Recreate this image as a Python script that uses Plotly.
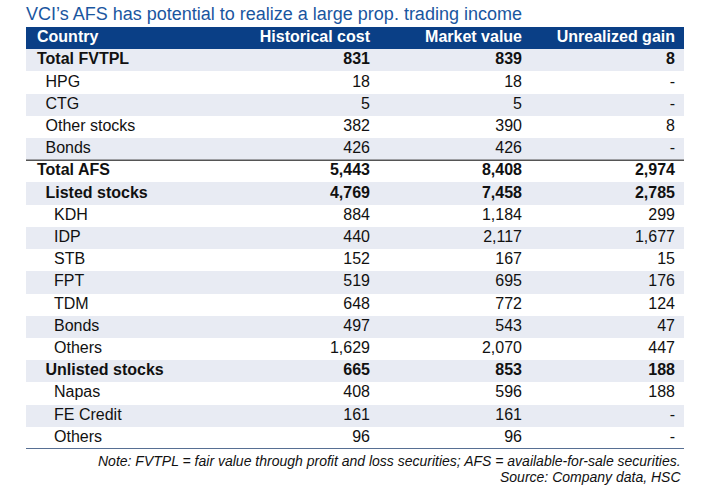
import plotly.graph_objects as go

# table data (VND bn)
labels = ["Total FVTPL", "HPG", "CTG", "Other stocks", "Bonds",
          "Total AFS", "Listed stocks", "KDH", "IDP", "STB", "FPT", "TDM",
          "Bonds", "Others", "Unlisted stocks", "Napas", "FE Credit", "Others"]
levels = [0, 1, 1, 1, 1, 0, 1, 2, 2, 2, 2, 2, 2, 2, 1, 2, 2, 2]
bold = [1, 0, 0, 0, 0, 1, 1, 0, 0, 0, 0, 0, 0, 0, 1, 0, 0, 0]
hist_cost = [831, 18, 5, 382, 426, 5443, 4769, 884, 440, 152, 519, 648,
             497, 1629, 665, 408, 161, 96]
market_value = [839, 18, 5, 390, 426, 8408, 7458, 1184, 2117, 167, 695, 772,
                543, 2070, 853, 596, 161, 96]
unrealized = [8, None, None, 8, None, 2974, 2785, 299, 1677, 15, 176, 124,
              47, 447, 188, 188, None, None]
headers = ["Country", "Historical cost", "Market value", "Unrealized gain"]

W, H = 704, 496
navy = "#0a3f86"
shade = "#e8ebf3"
font = "Liberation Sans, Arial, sans-serif"

n = len(labels)
rows = list(range(1, n + 1))     # row 0 is the header
tbl_w = 658                      # x axis in pixels across the table
col_x = [11, 344, 496, 649]      # label start, then right edges of number columns
indent = 8.5


def fmt(v, b):
    s = "-" if v is None else f"{v:,}"
    return f"<b>{s}</b>" if b else s


fig = go.Figure()

# row fills: header navy, then alternating shade / white
fig.add_trace(go.Bar(
    y=[0] + rows, x=[tbl_w] * (n + 1), base=0, orientation="h", width=1,
    marker=dict(color=[navy] + [shade if i % 2 == 0 else "white" for i in range(n)],
                line=dict(width=0)),
    hoverinfo="skip"))

# header text
fig.add_trace(go.Scatter(
    x=col_x, y=[0] * 4, mode="text",
    text=[f"<b>{h}</b>" for h in headers],
    textposition=["middle right", "middle left", "middle left", "middle left"],
    textfont=dict(family=font, size=16, color="white"), hoverinfo="skip"))

# country labels
fig.add_trace(go.Scatter(
    x=[col_x[0] + indent * lv for lv in levels], y=rows, mode="text",
    text=[f"<b>{t}</b>" if b else t for t, b in zip(labels, bold)],
    textposition="middle right",
    textfont=dict(family=font, size=16, color="#111111"), hoverinfo="skip"))

# number columns
for cx, vals in zip(col_x[1:], [hist_cost, market_value, unrealized]):
    fig.add_trace(go.Scatter(
        x=[cx] * n, y=rows, mode="text",
        text=[fmt(v, b) for v, b in zip(vals, bold)],
        textposition="middle left",
        textfont=dict(family=font, size=16, color="#111111"), hoverinfo="skip"))

# separators
afs = labels.index("Total AFS") + 1
fig.add_shape(type="line", xref="x", yref="y", x0=0, x1=tbl_w, y0=afs - 0.5, y1=afs - 0.5,
              line=dict(color="#555555", width=1.5))
fig.add_shape(type="line", xref="x", yref="y", x0=0, x1=tbl_w, y0=n + 0.5, y1=n + 0.5,
              line=dict(color="#1f3f6f", width=1.5))

top = 27
left = 26
row_px = 22.2
plot_h = row_px * (n + 1)

fig.update_layout(
    width=W, height=H,
    margin=dict(l=left, r=W - left - tbl_w, t=top, b=H - top - plot_h),
    paper_bgcolor="white", plot_bgcolor="white",
    showlegend=False, bargap=0,
    xaxis=dict(range=[0, tbl_w], visible=False, fixedrange=True),
    yaxis=dict(range=[n + 0.5, -0.5], visible=False, fixedrange=True),
)


# title and notes placed by pixel rows
def py(p):
    return 1 - (p - top) / plot_h


fig.add_annotation(text="VCI\u2019s AFS has potential to realize a large prop. trading income",
                   xref="paper", yref="paper", x=0, y=py(14), xanchor="left",
                   yanchor="middle", showarrow=False, xshift=-2,
                   font=dict(family=font, size=18, color="#1a56a0"))
fig.add_annotation(text="<i>Note: FVTPL = fair value through profit and loss securities; "
                        "AFS = available-for-sale securities.</i>",
                   xref="paper", yref="paper", x=1, y=py(461), xanchor="right",
                   yanchor="middle", showarrow=False, xshift=-1,
                   font=dict(family=font, size=14, color="#111111"))
fig.add_annotation(text="<i>Source: Company data, HSC</i>",
                   xref="paper", yref="paper", x=1, y=py(477), xanchor="right",
                   yanchor="middle", showarrow=False, xshift=-1,
                   font=dict(family=font, size=14, color="#111111"))

# drop the default 8px page margin so the figure sits at the window corner
fig.write_html("out.html", config={"displayModeBar": False},
               post_script="document.body.style.margin='0';")
